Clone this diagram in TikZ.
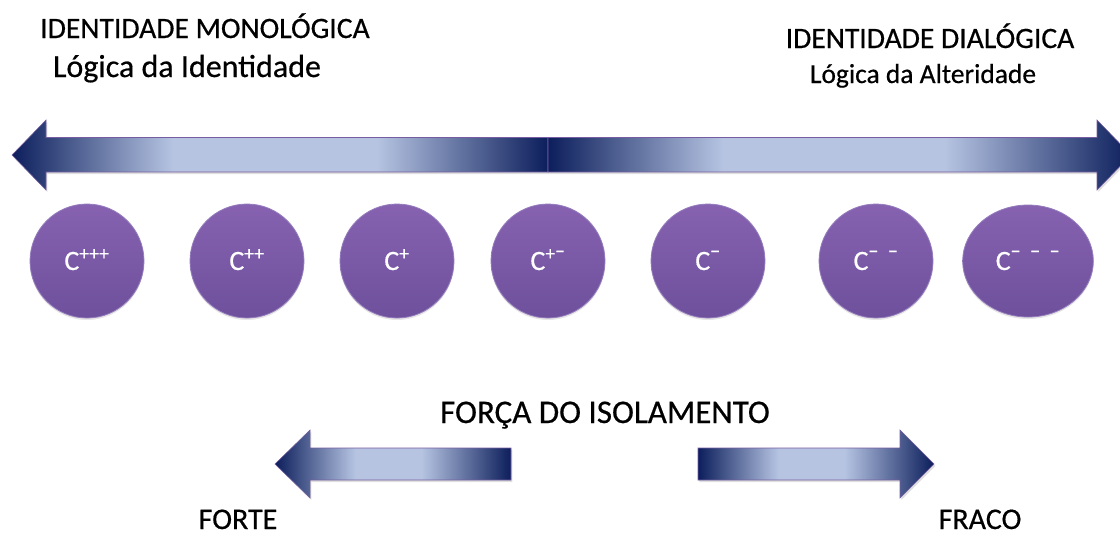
\documentclass[tikz,border=0pt]{standalone}
\usepackage{fontspec}
\setmainfont{Carlito}[FakeBold=0.5]
\usepackage{xcolor}
\usepackage{tikz}
\usetikzlibrary{shapes.geometric, positioning, shadows}
\definecolor{navyend}{RGB}{12,30,92}
\definecolor{paleblue}{RGB}{182,196,226}
\definecolor{rimline}{RGB}{118,92,160}
\definecolor{balltop}{RGB}{134,98,176}
\definecolor{ballbot}{RGB}{110,80,156}
\definecolor{ballrim}{RGB}{150,126,190}
\pgfdeclarehorizontalshading{bigbar}{100bp}{color(0bp)=(navyend); color(25bp)=(navyend); color(40bp)=(paleblue); color(59bp)=(paleblue); color(75bp)=(navyend); color(100bp)=(navyend)}
\pgfdeclarehorizontalshading{smallbar}{100bp}{color(0bp)=(navyend); color(25bp)=(navyend); color(42bp)=(paleblue); color(56bp)=(paleblue); color(75bp)=(navyend); color(100bp)=(navyend)}
\tikzstyle{bar} = [draw=rimline, line width=0.4pt, drop shadow={opacity=0.25, shadow xshift=1pt, shadow yshift=-1.5pt}]
\tikzstyle{ball} = [circle, inner sep=0pt, minimum size=85.5pt, top color=balltop, bottom color=ballbot, draw=ballrim, line width=0.6pt, text=white, font=\fontsize{21}{25}\selectfont, text height=13.5pt, text depth=0pt, drop shadow={opacity=0.2, shadow xshift=0pt, shadow yshift=-1.5pt}]
\tikzstyle{heading} = [anchor=base, inner sep=0pt]
\newcommand{\mn}{\raisebox{0.12em}{−}}

\begin{document}
\begin{tikzpicture}[x=0.75pt, y=-0.75pt]
    \useasboundingbox (0,0) rectangle (1120,537);
    \clip (0,0) rectangle (1120,537);

    % titles
    \node[heading, font=\fontsize{22.2}{26}\selectfont] (top-1) at (205,38) {IDENTIDADE MONOLÓGICA};
    \node[heading, font=\fontsize{24}{28}\selectfont] (sub-1) at (187,77) {Lógica da Identidade};
    \node[heading, font=\fontsize{22.2}{26}\selectfont] (top-2) at (930,48) {IDENTIDADE DIALÓGICA};
    \node[heading, font=\fontsize{20.6}{24}\selectfont] (sub-2) at (923,83) {Lógica da Alteridade};

    % long arrows
    \shadedraw[bar, shading=bigbar] (12,155) -- (46,120) -- (46,137.5) -- (548,137.5) -- (548,172) -- (46,172) -- (46,190) -- cycle;
    \shadedraw[bar, shading=bigbar] (548,137.5) -- (1097,137.5) -- (1097,120) -- (1131,155) -- (1097,190) -- (1097,172) -- (548,172) -- cycle;

    % the scale
    \node[ball] (c-1) at (87,261) {C\textsuperscript{+++}};
    \node[ball] (c-2) at (247,261) {C\textsuperscript{++}};
    \node[ball] (c-3) at (397,261) {C\textsuperscript{+}};
    \node[ball] (c-4) at (548,261) {C\textsuperscript{+\mn}};
    \node[ball] (c-5) at (708,261) {C\textsuperscript{\mn}};
    \node[ball] (c-6) at (876,261) {C\textsuperscript{\mn\enskip\mn}};
    \node[ball, ellipse, minimum width=98pt, minimum height=84pt] (c-7) at (1028,261) {C\textsuperscript{\mn\enskip\mn\enskip\mn}};

    % isolation
    \node[heading, font=\fontsize{24.8}{29}\selectfont] (force) at (605,423) {FORÇA DO ISOLAMENTO};
    \shadedraw[bar, shading=smallbar] (275,464) -- (310,430) -- (310,448) -- (511,448) -- (511,480) -- (310,480) -- (310,498) -- cycle;
    \shadedraw[bar, shading=smallbar] (698,448) -- (900,448) -- (900,430) -- (934,464) -- (900,498) -- (900,480) -- (698,480) -- cycle;
    \node[heading, font=\fontsize{22.5}{26}\selectfont] (bottom-1) at (238,529) {FORTE};
    \node[heading, font=\fontsize{22.5}{26}\selectfont] (bottom-2) at (980,529) {FRACO};

\end{tikzpicture}
\end{document}
